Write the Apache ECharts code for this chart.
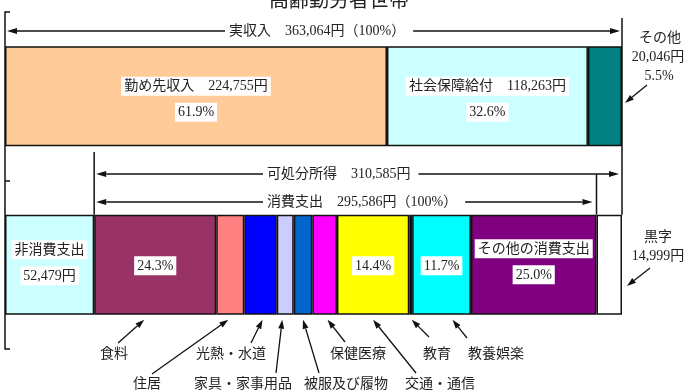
<!DOCTYPE html>
<html>
<head>
<meta charset="utf-8">
<script src="https://cdn.jsdelivr.net/npm/echarts@6/dist/echarts.min.js"></script>
<style>
  html, body { margin: 0; padding: 0; background: #fff; }
  #chart { width: 684px; height: 390px; }
</style>
</head>
<body>
<div id="chart"></div>
<script>
const FONT = "'Liberation Serif', 'Noto Sans CJK JP', serif";

const rows = ['収入', '支出'];

// 実収入の内訳
const incomeNames = ['勤め先収入', '社会保障給付', 'その他'];
const incomeValues = [224755, 118263, 20046];
const incomeShares = ['61.9%', '32.6%', '5.5%'];
const incomeColors = ['#FFCC99', '#CCFFFF', '#008080'];

// 支出側の内訳（非消費支出・消費支出10費目・黒字）
const spendNames = ['非消費支出', '食料', '住居', '光熱・水道', '家具・家事用品', '被服及び履物',
  '保健医療', '交通・通信', '教育', '教養娯楽', 'その他の消費支出', '黒字'];
const spendValues = [52479, 71827, 16500, 19100, 10000, 10900, 14514, 42564, 1700, 34584, 73897, 14999];
const spendShares = ['', '24.3%', '5.6%', '6.5%', '3.4%', '3.7%', '4.9%', '14.4%', '0.6%', '11.7%', '25.0%', ''];
const spendColors = ['#CCFFFF', '#993366', '#FF8080', '#0000FF', '#CCCCFF', '#0066CC',
  '#FF00FF', '#FFFF00', '#333333', '#00FFFF', '#800080', '#FFFFFF'];

const totalIncome = 363064;
const disposable = 310585;
const consumption = 295586;

// 棒の中に出すラベル
const incomeLabels = ['勤め先収入　224,755円\n61.9%', '社会保障給付　118,263円\n32.6%', ''];
const spendLabels = ['非消費支出\n52,479円', '24.3%', '', '', '', '', '', '14.4%', '', '11.7%',
  'その他の消費支出\n25.0%', ''];

// 下の引き出し線（費目名, 文字中心x, 文字中心y, 線の始点x, 始点y, 矢先のずれ）
const calloutPos = [
  [114, 354, 118, 343, -11],
  [147, 384, 152, 374, -2],
  [231, 354, 251, 343, 2],
  [243, 384, 276, 373, -3],
  [346, 384, 319, 373, 0],
  [358, 354, 345, 342, 3],
  [440, 384, 416, 373, 0],
  [437, 354, 429, 337, 1],
  [496, 354, 467, 338, 11]
];

const BAR_W = 100;

function richLabel(text, offsetY) {
  if (!text) return { show: false };
  return {
    show: true,
    position: 'inside',
    offset: [0, offsetY || 0],
    formatter: text.split('\n').map(t => '{t|' + t + '}').join('\n'),
    rich: {
      t: {
        fontFamily: FONT, fontSize: 14, color: '#222',
        backgroundColor: '#fff', padding: [3, 3, 2, 3], lineHeight: 26
      }
    }
  };
}

const series = [];
incomeNames.forEach((n, i) => {
  series.push({
    name: n, type: 'bar', stack: 'all', barWidth: BAR_W,
    data: [incomeValues[i], '-'],
    itemStyle: { color: incomeColors[i], borderColor: '#111', borderWidth: 1.5 },
    label: richLabel(incomeLabels[i], 3),
    silent: true
  });
});
spendNames.forEach((n, i) => {
  const off = i === 10 ? -3 : (i === 0 ? -2 : 1);
  series.push({
    name: n, type: 'bar', stack: 'all', barWidth: BAR_W,
    data: ['-', spendValues[i]],
    itemStyle: { color: spendColors[i], borderColor: '#111', borderWidth: 1.5 },
    label: richLabel(spendLabels[i], off),
    silent: true
  });
});

const chart = echarts.init(document.getElementById('chart'));
chart.setOption({
  animation: false,
  grid: { left: 5, right: 62, top: 12, bottom: 41 },
  xAxis: { type: 'value', min: 0, max: totalIncome, show: false },
  yAxis: {
    type: 'category', data: rows, inverse: true,
    axisLine: { show: true, lineStyle: { color: '#111', width: 1.5 } },
    axisTick: { show: true, inside: true, length: 5, lineStyle: { color: '#111', width: 1.5 } },
    axisLabel: { show: false }
  },
  series: series
});

// 注記用の線と文字
const ctx = document.createElement('canvas').getContext('2d');
function textW(s, size) {
  ctx.font = size + 'px ' + FONT;
  return ctx.measureText(s).width;
}
const px = v => chart.convertToPixel({ xAxisIndex: 0 }, v);
const py = c => chart.convertToPixel({ yAxisIndex: 0 }, c);

function arrow(x1, y1, x2, y2, head, w) {
  head = head || 9; w = w || 3;
  const a = Math.atan2(y2 - y1, x2 - x1);
  const bx = x2 - head * Math.cos(a), by = y2 - head * Math.sin(a);
  const nx = -Math.sin(a) * w, ny = Math.cos(a) * w;
  return [
    { type: 'line', z: 100, shape: { x1: x1, y1: y1, x2: bx, y2: by }, style: { stroke: '#111', lineWidth: 1.3 } },
    { type: 'polygon', z: 100, shape: { points: [[x2, y2], [bx + nx, by + ny], [bx - nx, by - ny]] }, style: { fill: '#111' } }
  ];
}
function vline(x, y1, y2) {
  return { type: 'line', z: 100, shape: { x1: x, y1: y1, x2: x, y2: y2 }, style: { stroke: '#111', lineWidth: 1.5 } };
}
function txt(s, x, y, size, align) {
  return {
    type: 'text', z: 101, x: x, y: y,
    style: { text: s, font: size + 'px ' + FONT, fill: '#222', align: align || 'center', verticalAlign: 'middle' }
  };
}
// 両向き矢印の付いた見出し
function span(label, left, y, x0, x1) {
  const w = textW(label, 14);
  return [
    txt(label, left, y, 14, 'left'),
    ...arrow(left - 4, y, x0, y, 10, 3),
    ...arrow(left + w + 8, y, x1, y, 10, 3)
  ];
}

const xL = px(0), xR = px(totalIncome);
const xNon = px(spendValues[0]);
const xCons = px(spendValues[0] + consumption);
const topBarTop = py(rows[0]) - BAR_W / 2;
const botBarTop = py(rows[1]) - BAR_W / 2;
const botBarBottom = py(rows[1]) + BAR_W / 2;

const g = [];
g.push(txt('高齢勤労者世帯', 339, 2, 20));
g.push(...span('実収入　' + totalIncome.toLocaleString('en-US') + '円（100%）', 229, 31, xL + 2, xR - 2));
g.push(vline(xR, 18, botBarTop));
g.push(vline(xNon, 152, botBarTop));
g.push(vline(xCons, 174, botBarTop));
g.push(...span('可処分所得　' + disposable.toLocaleString('en-US') + '円', 267, 174, xNon + 2, xR - 3));
g.push(...span('消費支出　' + consumption.toLocaleString('en-US') + '円（100%）', 267, 202, xNon + 2, xCons - 4));

// 右側：その他収入と黒字
g.push(txt(incomeNames[2], 660, 38, 14));
g.push(txt(incomeValues[2].toLocaleString('en-US') + '円', 658, 57, 14));
g.push(txt(incomeShares[2], 659, 76, 14));
g.push(...arrow(647, 85, xR + 3, 103, 9, 3));
g.push(txt(spendNames[11], 658, 237, 14));
g.push(txt(spendValues[11].toLocaleString('en-US') + '円', 658, 256, 14));
g.push(...arrow(650, 268, xR + 5, 286, 9, 3));

// 下の費目名
let cum = spendValues[0];
for (let i = 1; i <= 9; i++) {
  const mid = px(cum + spendValues[i] / 2);
  cum += spendValues[i];
  const p = calloutPos[i - 1];
  g.push(txt(spendNames[i], p[0], p[1], 14));
  g.push(...arrow(p[2], p[3], mid + p[4], botBarBottom + 5, 9, 3));
}

chart.setOption({ graphic: g });
</script>
</body>
</html>
